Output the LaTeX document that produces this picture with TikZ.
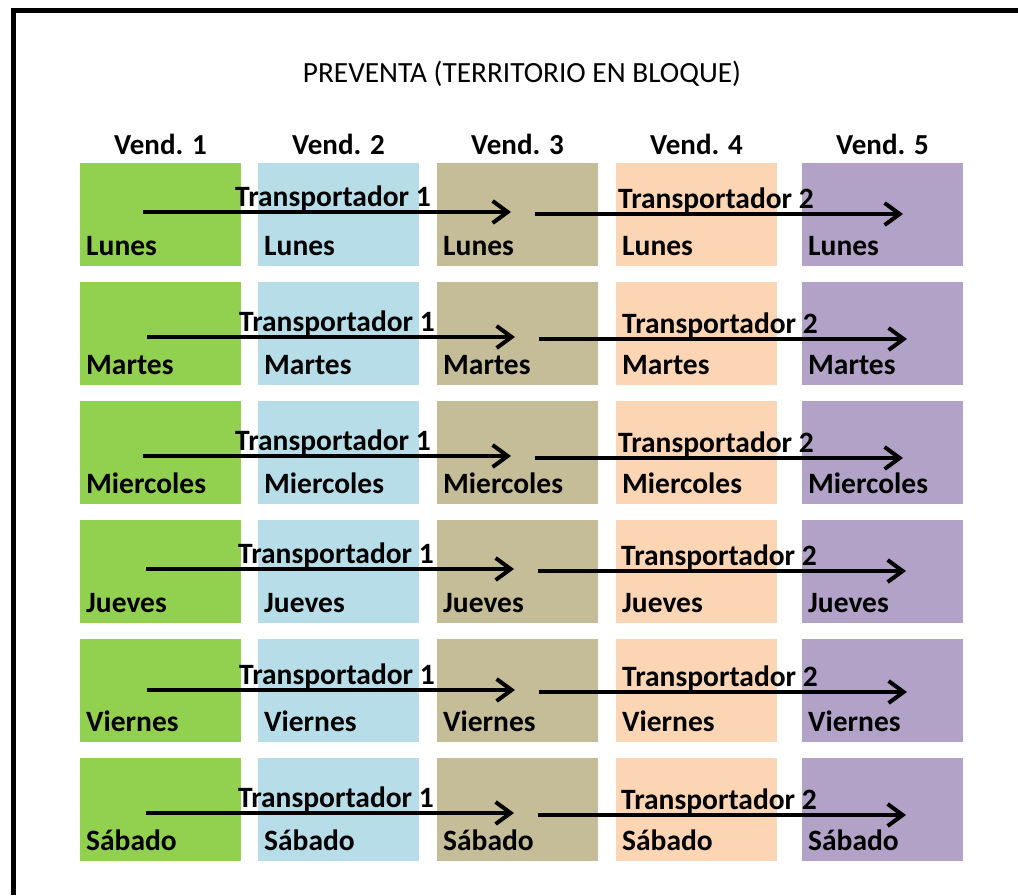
\documentclass[tikz,border=0pt]{standalone}
\usepackage{fontspec}
\setmainfont{Carlito}
\usetikzlibrary{arrows.meta}
\definecolor{vendA}{HTML}{92D050}
\definecolor{vendB}{HTML}{B7DEE8}
\definecolor{vendC}{HTML}{C4BD97}
\definecolor{vendD}{HTML}{FCD5B5}
\definecolor{vendE}{HTML}{B2A2C7}
\begin{document}
\begin{tikzpicture}[x=1pt,y=-1pt,
    frame/.style={line width=5pt,line join=miter},
    daybox/.style={anchor=north west,inner sep=0pt,minimum width=161pt,minimum height=103pt},
    daytext/.style={anchor=base west,inner sep=0pt,font=\fontsize{29.5}{31}\selectfont\bfseries},
    head/.style={anchor=base,inner sep=0pt,font=\fontsize{29}{31}\selectfont\bfseries},
    carrier/.style={anchor=base,inner sep=0pt,font=\fontsize{29.5}{31}\selectfont\bfseries},
    route/.style={line width=4pt,-{Straight Barb[length=15pt,width=22pt]}}]
    \useasboundingbox (0,0) rectangle (1018,895);
    \draw[frame] (13,895) -- (13,10.5) -- (1018,10.5);
    \node[anchor=base,inner sep=0pt,font=\fontsize{29.3}{31}\selectfont] (title) at (522,82) {PREVENTA (TERRITORIO EN BLOQUE)};
    \foreach \c/\x in {1/80,2/258,3/437,4/616,5/802}
        \node[head] (v\c) at (\x+80.5,154) {Vend. \c};
    \foreach \r/\day/\top/\ay/\dx in {1/Lunes/163/212/0,2/Martes/282/337/4,3/Miercoles/401/456/0,
                                      4/Jueves/520/569/3,5/Viernes/639/690/4,6/Sábado/758/813/3}{
        \foreach \c/\x/\col in {1/80/vendA,2/258/vendB,3/437/vendC,4/616/vendD,5/802/vendE}{
            \node[daybox,fill=\col] (b\r\c) at (\x,\top) {};
            \node[daytext] (d\r\c) at (\x+6,\top+92) {\day};
        }
        \coordinate (s\r a) at (143+\dx,\ay);
        \coordinate (e\r a) at (511+\dx,\ay);
        \coordinate (s\r b) at (535+\dx,\ay+2);
        \coordinate (e\r b) at (903+\dx,\ay+2);
        \draw[route] (s\r a) -- (e\r a);
        \draw[route] (s\r b) -- (e\r b);
        \node[carrier] (t\r a) at (333+\dx,\ay-6) {Transportador 1};
        \node[carrier] (t\r b) at (716+\dx,\ay-4) {Transportador 2};
    }
\end{tikzpicture}
\end{document}
